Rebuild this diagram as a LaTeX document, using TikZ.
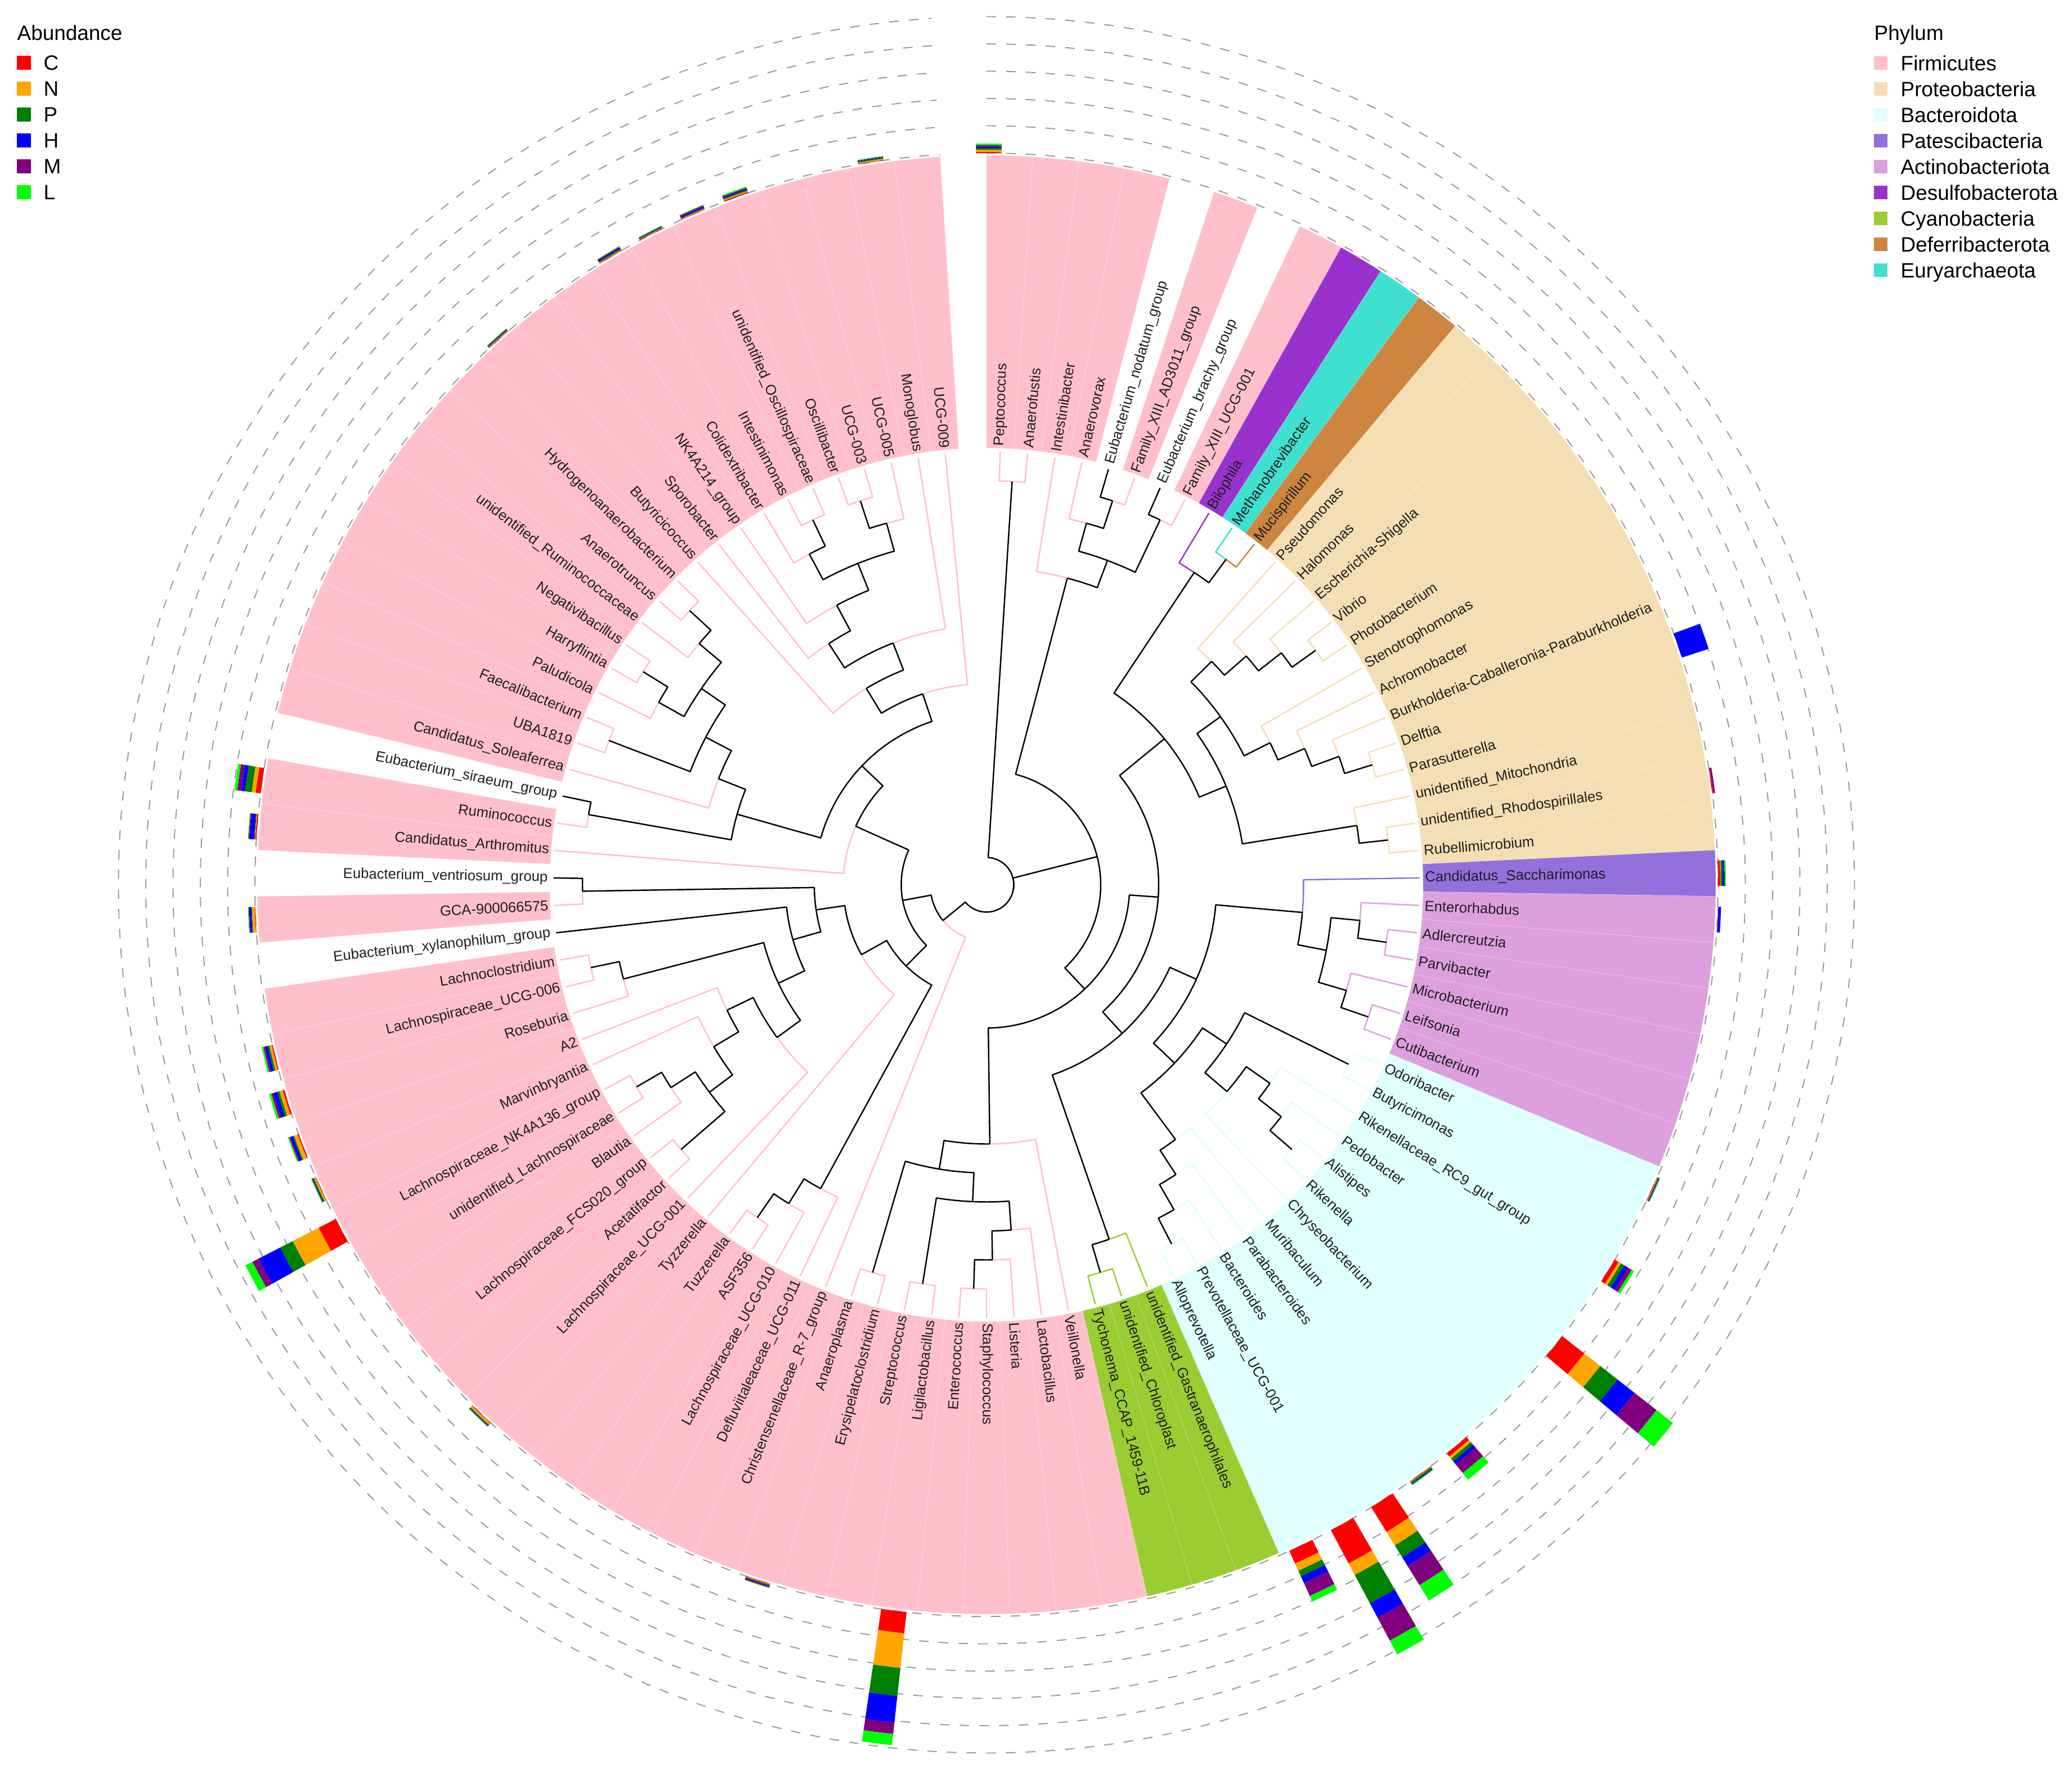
\documentclass[tikz,border=0pt]{standalone}
\usepackage{fontspec}
\setmainfont{Liberation Sans}
\usepackage{tikz}

\definecolor{fir}{HTML}{FFC0CB}
\definecolor{pro}{HTML}{F5DEB3}
\definecolor{bac}{HTML}{E0FFFF}
\definecolor{pat}{HTML}{9370DB}
\definecolor{act}{HTML}{DDA0DD}
\definecolor{des}{HTML}{9932CC}
\definecolor{cya}{HTML}{9ACD32}
\definecolor{def}{HTML}{CD853F}
\definecolor{eur}{HTML}{40E0D0}
\definecolor{na}{HTML}{FFFFFF}
\colorlet{Lfir}{fir}\colorlet{Lpro}{pro}\colorlet{Lbac}{bac}
\colorlet{Lpat}{pat}\colorlet{Lact}{act}\colorlet{Ldes}{des}
\colorlet{Lcya}{cya}\colorlet{Ldef}{def}\colorlet{Leur}{eur}
\colorlet{Lna}{black}
\definecolor{abC}{HTML}{FF0000}
\definecolor{abN}{HTML}{FFA500}
\definecolor{abP}{HTML}{008000}
\definecolor{abH}{HTML}{0000FF}
\definecolor{abM}{HTML}{800080}
\definecolor{abL}{HTML}{00FF00}

\def\Rt{7.695}% tips
\def\Rs{0.515}% one tree level
\def\Ri{7.76}% phylum ring, inner
\def\Ro{12.96}% phylum ring, outer
\def\Rl{7.79}% tip labels
\def\Rb{13.0}% foot of the bars
\def\bw{1.0}% half width of a bar (deg)
\def\slot{3.6363636}% 360/99

% edge from parent #1 to child #2
\newcommand\tedge[2]{%
  \pgfmathsetmacro\tkA{\csname na@#1\endcsname}%
  \pgfmathsetmacro\tkB{\csname na@#2\endcsname}%
  \pgfmathsetmacro\tkR{\Rt-\Rs*\csname nh@#1\endcsname}%
  \pgfmathsetmacro\tkS{\Rt-\Rs*\csname nh@#2\endcsname}%
  \edef\tkC{\csname nc@#2\endcsname}%
  \draw[treeline,color=\tkC] (\tkA:\tkR) arc[start angle=\tkA,end angle=\tkB,radius=\tkR] -- (\tkB:\tkS);}
\newcommand\clade[3]{%
  \pgfmathsetmacro\tkA{((\csname na@#2\endcsname)+(\csname na@#3\endcsname))/2}%
  \pgfmathtruncatemacro\tkH{max(\csname nh@#2\endcsname,\csname nh@#3\endcsname)+1}%
  \expandafter\xdef\csname na@#1\endcsname{\tkA}%
  \expandafter\xdef\csname nh@#1\endcsname{\tkH}%
  \expandafter\xdef\csname nc@#1\endcsname{black}%
  \tedge{#1}{#2}\tedge{#1}{#3}}
\newcommand\cladeiii[4]{%
  \pgfmathsetmacro\tkA{((\csname na@#2\endcsname)+(\csname na@#3\endcsname)+(\csname na@#4\endcsname))/3}%
  \pgfmathtruncatemacro\tkH{max(\csname nh@#2\endcsname,\csname nh@#3\endcsname,\csname nh@#4\endcsname)+1}%
  \expandafter\xdef\csname na@#1\endcsname{\tkA}%
  \expandafter\xdef\csname nh@#1\endcsname{\tkH}%
  \expandafter\xdef\csname nc@#1\endcsname{black}%
  \tedge{#1}{#2}\tedge{#1}{#3}\tedge{#1}{#4}}

% stacked bar: leaf, C, N, P, H, M, L
\newcommand\abund[7]{%
  \pgfmathsetmacro\bkA{90-(#1-0.5)*\slot}%
  \pgfmathsetmacro\bkP{\bkA+\bw}%
  \pgfmathsetmacro\bkM{\bkA-\bw}%
  \xdef\bkR{\Rb}%
  \abseg{abC}{#2}\abseg{abN}{#3}\abseg{abP}{#4}\abseg{abH}{#5}\abseg{abM}{#6}\abseg{abL}{#7}}
\newcommand\abseg[2]{%
  \ifdim#2pt>0pt
    \pgfmathsetmacro\bkS{\bkR+#2}%
    \fill[fill=#1] (\bkP:\bkR) arc[start angle=\bkP,end angle=\bkM,radius=\bkR] -- (\bkM:\bkS) arc[start angle=\bkM,end angle=\bkP,radius=\bkS] -- cycle;
    \xdef\bkR{\bkS}%
  \fi}

\def\leaflist{1/Peptococcus/fir,2/Anaerofustis/fir,3/Intestinibacter/fir,4/Anaerovorax/fir,%
5/Eubacterium\_nodatum\_group/na,6/Family\_XIII\_AD3011\_group/fir,7/Eubacterium\_brachy\_group/na,%
8/Family\_XIII\_UCG-001/fir,9/Bilophila/des,10/Methanobrevibacter/eur,11/Mucispirillum/def,%
12/Pseudomonas/pro,13/Halomonas/pro,14/Escherichia-Shigella/pro,15/Vibrio/pro,16/Photobacterium/pro,%
17/Stenotrophomonas/pro,18/Achromobacter/pro,19/Burkholderia-Caballeronia-Paraburkholderia/pro,%
20/Delftia/pro,21/Parasutterella/pro,22/unidentified\_Mitochondria/pro,23/unidentified\_Rhodospirillales/pro,%
24/Rubellimicrobium/pro,25/Candidatus\_Saccharimonas/pat,26/Enterorhabdus/act,27/Adlercreutzia/act,%
28/Parvibacter/act,29/Microbacterium/act,30/Leifsonia/act,31/Cutibacterium/act,32/Odoribacter/bac,%
33/Butyricimonas/bac,34/Rikenellaceae\_RC9\_gut\_group/bac,35/Pedobacter/bac,36/Alistipes/bac,%
37/Rikenella/bac,38/Chryseobacterium/bac,39/Muribaculum/bac,40/Parabacteroides/bac,41/Bacteroides/bac,%
42/Prevotellaceae\_UCG-001/bac,43/Alloprevotella/bac,44/unidentified\_Gastranaerophilales/cya,%
45/unidentified\_Chloroplast/cya,46/Tychonema\_CCAP\_1459-11B/cya,47/Veillonella/fir,48/Lactobacillus/fir,%
49/Listeria/fir,50/Staphylococcus/fir,51/Enterococcus/fir,52/Ligilactobacillus/fir,53/Streptococcus/fir,%
54/Erysipelatoclostridium/fir,55/Anaeroplasma/fir,56/Christensenellaceae\_R-7\_group/fir,%
57/Defluviitaleaceae\_UCG-011/fir,58/Lachnospiraceae\_UCG-010/fir,59/ASF356/fir,60/Tuzzerella/fir,%
61/Tyzzerella/fir,62/Lachnospiraceae\_UCG-001/fir,63/Acetatifactor/fir,64/Lachnospiraceae\_FCS020\_group/fir,%
65/Blautia/fir,66/unidentified\_Lachnospiraceae/fir,67/Lachnospiraceae\_NK4A136\_group/fir,%
68/Marvinbryantia/fir,69/A2/fir,70/Roseburia/fir,71/Lachnospiraceae\_UCG-006/fir,72/Lachnoclostridium/fir,%
73/Eubacterium\_xylanophilum\_group/na,74/GCA-900066575/fir,75/Eubacterium\_ventriosum\_group/na,%
76/Candidatus\_Arthromitus/fir,77/Ruminococcus/fir,78/Eubacterium\_siraeum\_group/na,%
79/Candidatus\_Soleaferrea/fir,80/UBA1819/fir,81/Faecalibacterium/fir,82/Paludicola/fir,%
83/Harryflintia/fir,84/Negativibacillus/fir,85/unidentified\_Ruminococcaceae/fir,86/Anaerotruncus/fir,%
87/Hydrogenoanaerobacterium/fir,88/Butyricicoccus/fir,89/Sporobacter/fir,90/NK4A214\_group/fir,%
91/Colidextribacter/fir,92/Intestinimonas/fir,93/unidentified\_Oscillospiraceae/fir,94/Oscillibacter/fir,%
95/UCG-003/fir,96/UCG-005/fir,97/Monoglobus/fir,98/UCG-009/fir}

\begin{document}
\begin{tikzpicture}[
    treeline/.style={line width=0.7pt,line join=round},
    tiplab/.style={font=\fontsize{7.3}{8}\selectfont,inner sep=0pt,text=black!88},
    ringline/.style={black!40,line width=0.55pt,dash pattern=on 0.17cm off 0.18cm},
    tile/.style={draw=white,draw opacity=0.22,line width=0.25pt},
    legtext/.style={font=\fontsize{10.5}{12}\selectfont,inner sep=0pt}]
  \useasboundingbox (-17.53,-15.70) rectangle (19.29,15.72);
  \fill[white] (-17.53,-15.70) rectangle (19.29,15.72);

  % phylum ring, and the leaves
  \foreach \k/\nm/\ph in \leaflist{
    \pgfmathsetmacro\la{90-(\k-0.5)*\slot}
    \pgfmathsetmacro\lp{\la+1.818}
    \pgfmathsetmacro\lm{\la-1.818}
    \expandafter\xdef\csname na@\k\endcsname{\la}
    \expandafter\xdef\csname nh@\k\endcsname{0}
    \expandafter\xdef\csname nc@\k\endcsname{L\ph}
    \filldraw[tile,fill=\ph] (\lp:\Ri) arc[start angle=\lp,end angle=\lm,radius=\Ri] -- (\lm:\Ro) arc[start angle=\lm,end angle=\lp,radius=\Ro] -- cycle;
  }

  % grid of the bars
  \foreach \k in {0,...,5}{
    \pgfmathsetmacro\rr{\Rb+0.485*\k}
    \draw[ringline] (90:\rr) arc[start angle=90,end angle=-266.36,radius=\rr];
  }

  % abundance
  \abund{0.55}{.02}{.04}{.03}{.02}{.03}{.03}
  \abund{97}{.01}{.02}{.02}{.01}{.01}{.01}
  \abund{94}{.02}{.02}{.02}{.02}{.02}{.02}
  \abund{93}{.01}{.01}{.01}{.02}{.03}{.01}
  \abund{92}{.01}{.01}{.01}{.01}{.01}{.01}
  \abund{91}{.01}{.01}{.02}{.02}{.02}{.01}
  \abund{88}{.01}{.01}{.01}{.01}{.01}{.01}
  \abund{77}{.09}{.07}{.12}{.07}{.07}{.05}
  \abund{76}{.02}{.01}{.01}{.08}{.02}{.01}
  \abund{74}{.01}{.05}{.01}{.04}{.01}{.01}
  \abund{71}{.02}{.04}{.03}{.05}{.03}{.03}
  \abund{70}{.03}{.06}{.04}{.07}{.04}{.04}
  \abund{69}{.02}{.07}{.02}{.05}{.02}{.02}
  \abund{68}{.01}{.03}{.02}{.01}{.01}{.01}
  \abund{67}{.34}{.52}{.25}{.43}{.125}{.14}
  \abund{62}{.01}{.04}{.01}{.01}{.01}{.01}
  \abund{55}{.01}{.01}{.01}{.01}{.03}{.01}
  \abund{52}{.38}{.62}{.50}{.48}{.20}{.20}
  \abund{43}{.25}{.14}{.11}{.13}{.25}{.11}
  \abund{42}{.67}{.23}{.57}{.29}{.46}{.28}
  \abund{41}{.52}{.28}{.25}{.18}{.40}{.32}
  \abund{40}{.01}{.01}{.03}{.01}{.01}{.01}
  \abund{39}{.07}{.05}{.06}{.07}{.20}{.15}
  \abund{36}{.50}{.36}{.39}{.38}{.50}{.37}
  \abund{34}{.08}{.05}{.07}{.08}{.07}{.05}
  \abund{32}{.01}{.01}{.01}{.01}{.01}{.01}
  \abund{26}{0}{.01}{0}{.05}{0}{0}
  \abund{25}{.04}{.01}{.03}{.03}{.01}{.02}
  \abund{23}{.02}{0}{0}{0}{.03}{0}
  \abund{20}{0}{0}{0}{.50}{0}{0}

  % tree
  \clade{A}{1}{2}
  \clade{Ra}{5}{6}
  \clade{R1}{4}{Ra}
  \clade{R2}{7}{8}
  \clade{R}{R1}{R2}
  \clade{P}{3}{R}
  \clade{Ma}{10}{11}
  \clade{M2}{9}{Ma}
  \clade{Pa}{15}{16}
  \clade{Pb}{14}{Pa}
  \clade{Pc}{13}{Pb}
  \clade{Pd}{12}{Pc}
  \clade{Xa}{20}{21}
  \clade{Xb}{19}{Xa}
  \clade{Xc}{18}{Xb}
  \clade{X}{17}{Xc}
  \clade{Pe}{Pd}{X}
  \clade{Pf}{23}{24}
  \clade{Pg}{22}{Pf}
  \clade{Ph}{Pe}{Pg}
  \clade{N8}{M2}{Ph}
  \clade{Aa}{27}{28}
  \clade{Ab}{26}{Aa}
  \clade{Ac}{30}{31}
  \clade{Ad}{29}{Ac}
  \clade{Act}{Ab}{Ad}
  \clade{Sac}{25}{Act}
  \clade{Ba}{32}{33}
  \clade{Bb}{36}{37}
  \clade{Bc}{35}{Bb}
  \clade{Bd}{34}{Bc}
  \clade{Be}{Bd}{38}
  \clade{Bf}{Ba}{Be}
  \clade{Bg}{42}{43}
  \clade{Bh}{41}{Bg}
  \clade{Bi}{40}{Bh}
  \clade{Bj}{39}{Bi}
  \clade{Bk}{Bf}{Bj}
  \clade{N7}{Sac}{Bk}
  \clade{Ca}{45}{46}
  \clade{Cy}{44}{Ca}
  \clade{W}{N7}{Cy}
  \clade{N5}{N8}{W}
  \clade{Fa}{50}{51}
  \clade{Fb}{49}{Fa}
  \clade{Fc}{48}{Fb}
  \clade{Fd}{52}{53}
  \clade{Fe}{Fc}{Fd}
  \clade{Ff}{54}{55}
  \clade{Fg}{Ff}{Fe}
  \clade{Fm}{47}{Fg}
  \clade{Q}{N5}{Fm}
  \clade{B}{P}{Q}
  \clade{Ta}{59}{60}
  \clade{Tb}{58}{Ta}
  \clade{Tc}{57}{Tb}
  \clade{La}{66}{67}
  \clade{Lb}{La}{65}
  \clade{Lc}{63}{64}
  \clade{Ld}{Lb}{Lc}
  \clade{Le}{68}{Ld}
  \clade{Lf}{69}{Le}
  \clade{Lg}{62}{Lf}
  \clade{Lh}{71}{72}
  \clade{Li}{70}{Lh}
  \clade{Lj}{Li}{Lg}
  \clade{Lk}{73}{Lj}
  \clade{Ll}{74}{75}
  \clade{Lm}{Ll}{Lk}
  \clade{Ln}{61}{Lm}
  \clade{Lo}{Tc}{Ln}
  \clade{Oa}{77}{78}
  \clade{Ob}{83}{84}
  \clade{Oc}{82}{Ob}
  \clade{Od}{86}{87}
  \clade{Oe}{85}{Od}
  \clade{Of}{Oc}{Oe}
  \clade{Og}{80}{81}
  \clade{Oh}{Og}{Of}
  \clade{Oi}{79}{Oh}
  \clade{Oj}{Oa}{Oi}
  \clade{Ok}{92}{93}
  \clade{Ol}{91}{Ok}
  \clade{Om}{94}{95}
  \clade{On}{Om}{96}
  \clade{Oo}{Ol}{On}
  \clade{Op}{90}{Oo}
  \clade{Oq}{89}{Op}
  \clade{Or}{Oq}{97}
  \clade{Os}{88}{Or}
  \clade{Ot}{Os}{98}
  \clade{Ou}{Oj}{Ot}
  \clade{Ov}{76}{Ou}
  \clade{Ow}{Ov}{Lo}
  \clade{C}{56}{Ow}
  \cladeiii{root}{A}{B}{C}

  % tip labels
  \foreach \k/\nm/\ph in \leaflist{
    \pgfmathsetmacro\la{90-(\k-0.5)*\slot}
    \ifdim\la pt<-90.5pt
      \pgfmathsetmacro\lr{\la+180}
      \node[tiplab,anchor=east,rotate=\lr] (lab\k) at (\la:\Rl) {\nm};
    \else
      \node[tiplab,anchor=west,rotate=\la] (lab\k) at (\la:\Rl) {\nm};
    \fi
  }

  % legends
  \node[legtext,anchor=base west] (abtitle) at (-17.23,15.0) {Abundance};
  \foreach \i/\lab/\col in {0/C/abC,1/N/abN,2/P/abP,3/H/abH,4/M/abM,5/L/abL}{
    \pgfmathsetmacro\ly{14.605-0.46*\i}
    \fill[fill=\col] (-17.23,\ly-0.125) rectangle (-16.98,\ly+0.125);
    \node[legtext,anchor=base west] (ab\lab) at (-16.76,\ly-0.132) {\lab};
  }
  \node[legtext,anchor=base west] (phtitle) at (15.77,15.0) {Phylum};
  \foreach \i/\lab/\col in {0/Firmicutes/fir,1/Proteobacteria/pro,2/Bacteroidota/bac,3/Patescibacteria/pat,4/Actinobacteriota/act,5/Desulfobacterota/des,6/Cyanobacteria/cya,7/Deferribacterota/def,8/Euryarchaeota/eur}{
    \pgfmathsetmacro\ly{14.60-0.46*\i}
    \fill[fill=\col] (15.77,\ly-0.12) rectangle (16.01,\ly+0.12);
    \node[legtext,anchor=base west] (ph\i) at (16.24,\ly-0.132) {\lab};
  }
\end{tikzpicture}
\end{document}
